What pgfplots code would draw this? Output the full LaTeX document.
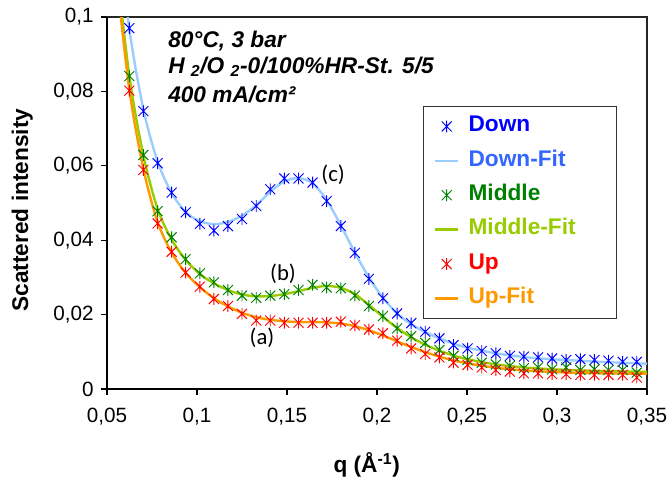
\documentclass[border=0pt]{standalone}
\usepackage{fontspec}
\setmainfont{Liberation Sans}
\newfontfamily\calibri{Carlito}
\usepackage{pgfplots}
\pgfplotsset{compat=1.18}

\definecolor{downblue}{RGB}{0,0,255}
\definecolor{downfit}{RGB}{153,204,255}
\definecolor{downtxt}{RGB}{51,102,255}
\definecolor{midgreen}{RGB}{0,128,0}
\definecolor{midfit}{RGB}{153,204,0}
\definecolor{upred}{RGB}{255,0,0}
\definecolor{upfit}{RGB}{255,153,0}

% Excel-style star: vertical bar plus an X
\pgfdeclareplotmark{xstar}{%
  \pgfpathmoveto{\pgfqpoint{0pt}{-\pgfplotmarksize}}%
  \pgfpathlineto{\pgfqpoint{0pt}{\pgfplotmarksize}}%
  \pgfpathmoveto{\pgfqpoint{-0.85\pgfplotmarksize}{-0.85\pgfplotmarksize}}%
  \pgfpathlineto{\pgfqpoint{0.85\pgfplotmarksize}{0.85\pgfplotmarksize}}%
  \pgfpathmoveto{\pgfqpoint{-0.85\pgfplotmarksize}{0.85\pgfplotmarksize}}%
  \pgfpathlineto{\pgfqpoint{0.85\pgfplotmarksize}{-0.85\pgfplotmarksize}}%
  \pgfusepathqstroke}

\pgfplotstableread{
q y
0.0624 0.0970
0.0702 0.0747
0.0781 0.0607
0.0859 0.0528
0.0937 0.0475
0.1016 0.0444
0.1094 0.0426
0.1172 0.0438
0.1250 0.0457
0.1329 0.0492
0.1407 0.0537
0.1485 0.0566
0.1564 0.0566
0.1642 0.0555
0.1720 0.0505
0.1799 0.0438
0.1877 0.0366
0.1955 0.0296
0.2033 0.0244
0.2112 0.0203
0.2190 0.0177
0.2268 0.0154
0.2347 0.0136
0.2425 0.0118
0.2503 0.0109
0.2582 0.0102
0.2660 0.0096
0.2738 0.0089
0.2816 0.0087
0.2895 0.0085
0.2973 0.0082
0.3051 0.0078
0.3130 0.0080
0.3208 0.0078
0.3286 0.0076
0.3365 0.0073
0.3443 0.0073
}\down

\pgfplotstableread{
q y
0.0570 0.1220
0.0624 0.0968
0.0702 0.0752
0.0781 0.0612
0.0859 0.0527
0.0937 0.0476
0.1016 0.0451
0.1094 0.0443
0.1172 0.0449
0.1250 0.0466
0.1329 0.0494
0.1407 0.0530
0.1485 0.0558
0.1564 0.0567
0.1642 0.0553
0.1720 0.0508
0.1799 0.0440
0.1877 0.0367
0.1955 0.0300
0.2033 0.0245
0.2112 0.0203
0.2190 0.0174
0.2268 0.0153
0.2347 0.0136
0.2425 0.0122
0.2503 0.0111
0.2660 0.0096
0.2816 0.0086
0.2973 0.0080
0.3130 0.0076
0.3286 0.0072
0.3500 0.0068
}\downfit

\pgfplotstableread{
q y
0.0624 0.0841
0.0702 0.0629
0.0781 0.0478
0.0859 0.0408
0.0937 0.0349
0.1016 0.0311
0.1094 0.0287
0.1172 0.0266
0.1250 0.0251
0.1329 0.0245
0.1407 0.0251
0.1485 0.0255
0.1564 0.0266
0.1642 0.0280
0.1720 0.0273
0.1799 0.0271
0.1877 0.0251
0.1955 0.0223
0.2033 0.0196
0.2112 0.0163
0.2190 0.0142
0.2268 0.0124
0.2347 0.0105
0.2425 0.0089
0.2503 0.0078
0.2582 0.0071
0.2660 0.0066
0.2738 0.0062
0.2816 0.0056
0.2895 0.0058
0.2973 0.0053
0.3051 0.0058
0.3130 0.0051
0.3208 0.0053
0.3286 0.0051
0.3365 0.0051
0.3443 0.0044
}\middle

\pgfplotstableread{
q y
0.0550 0.1150
0.0624 0.0842
0.0702 0.0628
0.0781 0.0484
0.0859 0.0402
0.0937 0.0347
0.1016 0.0309
0.1094 0.0284
0.1172 0.0266
0.1250 0.0254
0.1329 0.0249
0.1407 0.0250
0.1485 0.0255
0.1564 0.0263
0.1642 0.0272
0.1720 0.0277
0.1799 0.0272
0.1877 0.0255
0.1955 0.0226
0.2033 0.0194
0.2112 0.0164
0.2190 0.0139
0.2268 0.0119
0.2347 0.0103
0.2425 0.0090
0.2503 0.0080
0.2660 0.0066
0.2816 0.0058
0.2973 0.0053
0.3130 0.0050
0.3286 0.0048
0.3500 0.0046
}\middlefit

\pgfplotstableread{
q y
0.0624 0.0802
0.0702 0.0589
0.0781 0.0445
0.0859 0.0369
0.0937 0.0313
0.1016 0.0275
0.1094 0.0242
0.1172 0.0223
0.1250 0.0202
0.1329 0.0184
0.1407 0.0184
0.1485 0.0178
0.1564 0.0178
0.1642 0.0178
0.1720 0.0178
0.1799 0.0181
0.1877 0.0171
0.1955 0.0160
0.2033 0.0150
0.2112 0.0130
0.2190 0.0109
0.2268 0.0094
0.2347 0.0085
0.2425 0.0071
0.2503 0.0065
0.2582 0.0058
0.2660 0.0051
0.2738 0.0047
0.2816 0.0042
0.2895 0.0042
0.2973 0.0040
0.3051 0.0040
0.3130 0.0038
0.3208 0.0038
0.3286 0.0038
0.3365 0.0038
0.3443 0.0031
}\up

\pgfplotstableread{
q y
0.0550 0.1120
0.0624 0.0805
0.0702 0.0592
0.0781 0.0449
0.0859 0.0367
0.0937 0.0312
0.1016 0.0274
0.1094 0.0244
0.1172 0.0222
0.1250 0.0205
0.1329 0.0193
0.1407 0.0186
0.1485 0.0182
0.1564 0.0180
0.1642 0.0180
0.1720 0.0179
0.1799 0.0176
0.1877 0.0169
0.1955 0.0158
0.2033 0.0144
0.2112 0.0128
0.2190 0.0113
0.2268 0.0099
0.2347 0.0087
0.2425 0.0077
0.2503 0.0069
0.2660 0.0057
0.2816 0.0050
0.2973 0.0046
0.3130 0.0043
0.3286 0.0042
0.3500 0.0041
}\upfit

\begin{document}
\begin{tikzpicture}
\useasboundingbox (-80.25pt,-67.5pt) rectangle (422.25pt,291.75pt);
\begin{axis}[
    name=ax,
    scale only axis,
    width=405pt, height=279pt,
    xmin=0.05, xmax=0.35, ymin=0, ymax=0.1,
    xtick={0.05,0.1,0.15,0.2,0.25,0.3,0.35},
    ytick={0,0.02,0.04,0.06,0.08,0.1},
    xtick pos=bottom, ytick pos=left,
    tick align=outside,
    major tick length=4.5pt,
    tick style={black, line width=0.8pt},
    axis line style={black!85, line width=1pt},
    /pgf/number format/.cd, use comma, fixed, precision=2, assume math mode=true,
    /pgfplots/.cd,
    ticklabel style={font=\fontsize{15.5}{18}\selectfont},
    xticklabel style={yshift=-6pt},
    yticklabel style={xshift=-2pt},
    every axis x label/.style={at={(axis description cs:0.481,-0.204)}, anchor=center},
    every axis y label/.style={at={(axis description cs:-0.157,0.481)}, anchor=center, rotate=90},
    label style={font=\fontsize{17}{20}\selectfont\bfseries},
    xlabel={q (Å\textsuperscript{-1})},
    ylabel={Scattered intensity},
    legend style={at={(0.585,0.761)}, anchor=north west, draw=black!80,
        line width=0.8pt, fill=white, inner xsep=8pt, inner ysep=4pt,
        row sep=3.8pt, column sep=4pt,
        font=\fontsize{17}{20}\selectfont\bfseries,
        nodes={inner sep=3pt, text height=12pt, text depth=4pt}},
    legend cell align=left,
]
\addplot[only marks, mark=xstar, mark size=4.4pt, downblue, line width=0.7pt] table {\down};
\addlegendentry{\makebox[100pt][l]{\textcolor{downblue}{Down}}}
\addplot[no marks, smooth, downfit, line width=1.8pt] table {\downfit};
\addlegendentry{\textcolor{downtxt}{Down-Fit}}
\addplot[only marks, mark=xstar, mark size=4.4pt, midgreen, line width=0.7pt] table {\middle};
\addlegendentry{\textcolor{midgreen}{Middle}}
\addplot[no marks, smooth, midfit, line width=1.8pt] table {\middlefit};
\addlegendentry{\textcolor{midfit}{Middle-Fit}}
\addplot[only marks, mark=xstar, mark size=4.4pt, upred, line width=0.7pt] table {\up};
\addlegendentry{\textcolor{upred}{Up}}
\addplot[no marks, smooth, upfit, line width=1.8pt] table {\upfit};
\addlegendentry{\textcolor{upfit}{Up-Fit}}

\node[anchor=base west, inner sep=0pt, font=\fontsize{17}{20}\selectfont\bfseries\itshape] at (axis cs:0.0839,0.0917) {80°C, 3 bar};
\node[anchor=base west, inner sep=0pt, font=\fontsize{17}{20}\selectfont\bfseries\itshape] at (axis cs:0.0839,0.0849) {H \textsubscript{2}/O \textsubscript{2}-0/100\%HR-St. 5/5};
\node[anchor=base west, inner sep=0pt, font=\fontsize{17}{20}\selectfont\bfseries\itshape] at (axis cs:0.0839,0.0769) {400 mA/cm²};
\node[font=\calibri\fontsize{17}{20}\selectfont] at (axis cs:0.1756,0.0575) {(c)};
\node[font=\calibri\fontsize{17}{20}\selectfont] at (axis cs:0.1478,0.0309) {(b)};
\node[font=\calibri\fontsize{17}{20}\selectfont] at (axis cs:0.1361,0.0137) {(a)};
\end{axis}
\draw[black, line width=1.7pt] (ax.north west) -- (ax.south west) -- (ax.south east);
\end{tikzpicture}
\end{document}
